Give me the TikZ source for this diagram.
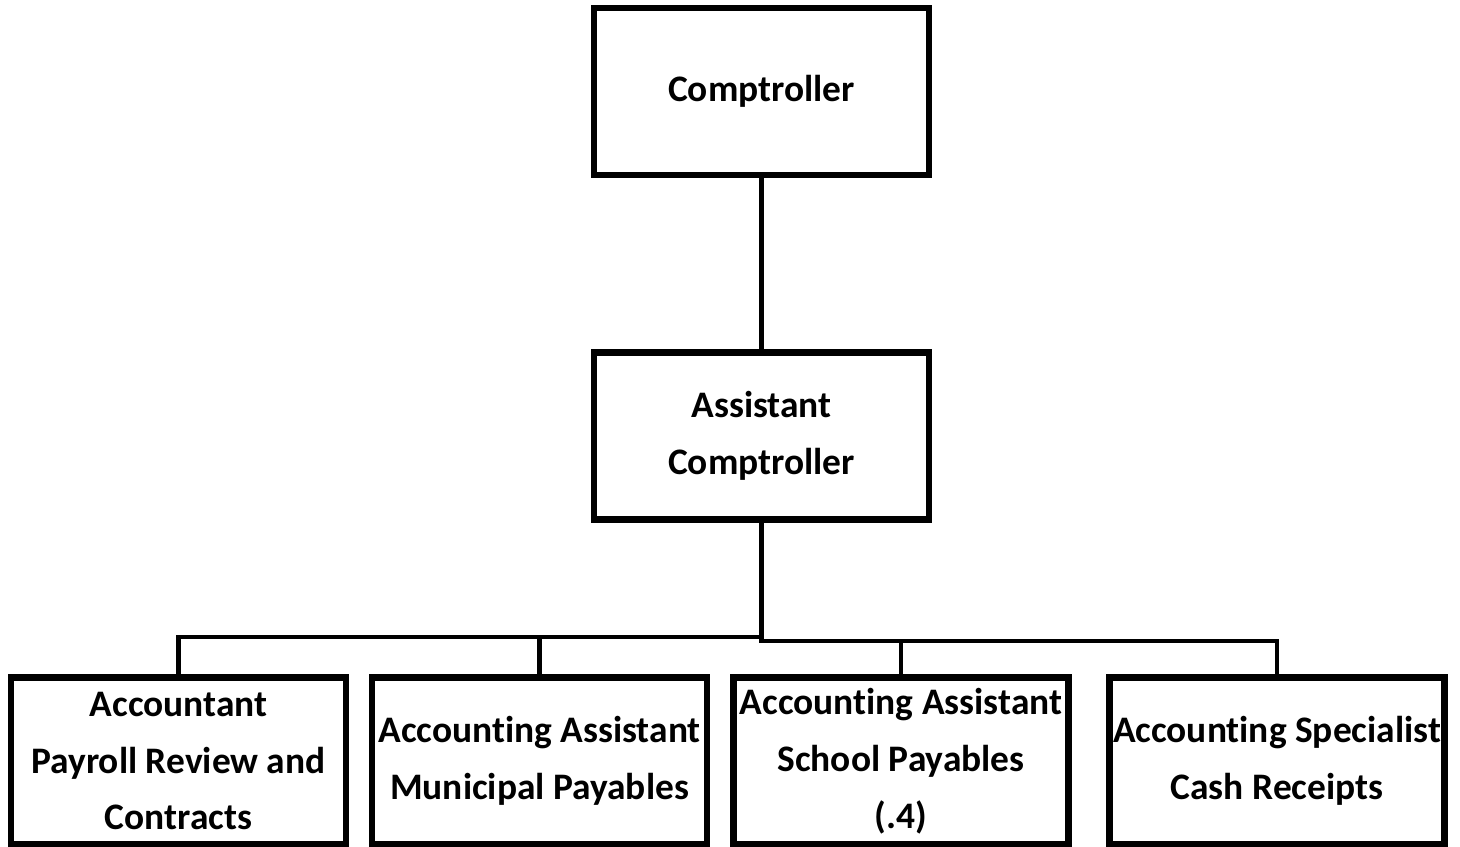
\documentclass[tikz,border=0pt]{standalone}
\usepackage{fontspec}
\setmainfont{Carlito}[RawFeature=-liga]
\usetikzlibrary{shadows}

\tikzset{
  ufficio/.style={draw=black, line width=0.13cm, fill=white, minimum width=6.7cm, minimum height=3.34cm,
    align=center, inner sep=0pt, font=\fontsize{21.3}{32.4}\selectfont\bfseries,
    drop shadow={shadow xshift=0.05cm, shadow yshift=-0.05cm, opacity=0.35}},
  linea/.style={line width=0.09cm}
}

\begin{document}
\begin{tikzpicture}[x=0.02cm, y=-0.02cm]
        \useasboundingbox (0,0) rectangle (1460,846);
        % Vertici
        \node[ufficio] (comp) at (761.5,91.5) {Comptroller};
        \node[ufficio] (asst) at (761.5,436) {Assistant\\Comptroller};
        % Uffici
        \node[ufficio] (acct) at (178.5,761) {Accountant\\Payroll Review and\\Contracts};
        \node[ufficio] (muni) at (539.5,761) {Accounting Assistant\\Municipal Payables};
        \node[ufficio] (scuo) at (901,761) {Accounting Assistant\\School Payables\\(.4)};
        \node[ufficio] (cass) at (1277,761) {Accounting Specialist\\Cash Receipts};
        % Collegamenti
        \coordinate (busL) at (761.5,637);
        \coordinate (busR) at (761.5,641);
        \draw[linea] (comp.south) -- (asst.north);
        \draw[linea] (asst.south) -- (busR) -| (cass.north);
        \draw[linea] (busR) -| (scuo.north);
        \draw[linea] (busL) -| (acct.north);
        \draw[linea] (busL) -| (muni.north);
\end{tikzpicture}
\end{document}
